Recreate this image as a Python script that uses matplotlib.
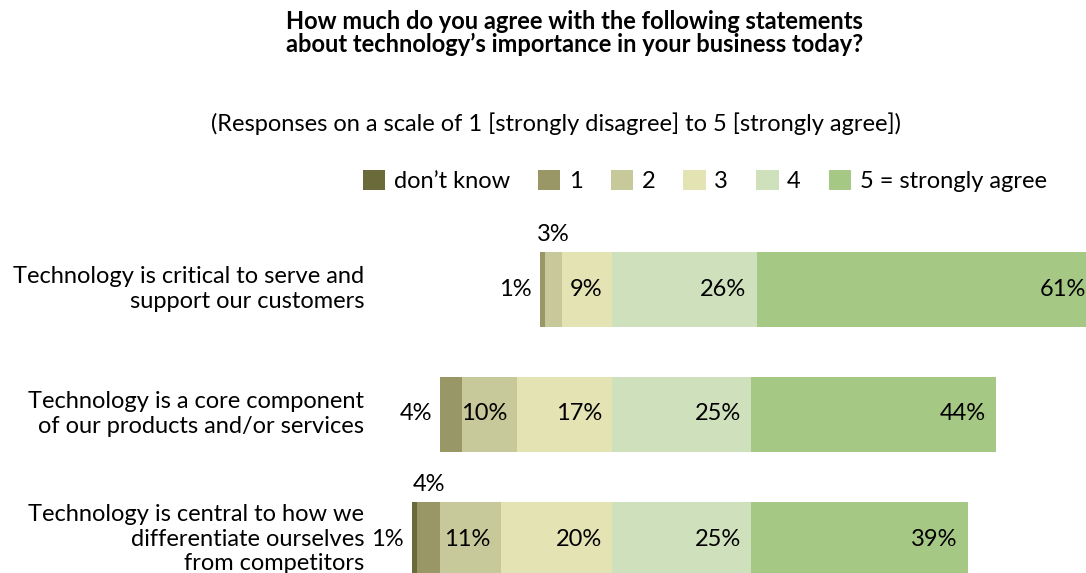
import matplotlib
matplotlib.use("Agg")
import matplotlib.pyplot as plt
from matplotlib.patches import Patch

plt.rcParams['font.family'] = ['Lato', 'DejaVu Sans']

# Data (percent of responses)
statements = [
    "Technology is critical to serve and\nsupport our customers",
    "Technology is a core component\nof our products and/or services",
    "Technology is central to how we\ndifferentiate ourselves\nfrom competitors",
]
dont_know = [0, 0, 1]
score_1 = [1, 4, 4]
score_2 = [3, 10, 11]
score_3 = [9, 17, 20]
score_4 = [26, 25, 25]
score_5 = [61, 44, 39]

series_names = ["don\u2019t know", "1", "2", "3", "4", "5 = strongly agree"]
colors = ["#6b6a3b", "#999766", "#c8c99a", "#e4e3b3", "#cfe0bc", "#a5c885"]

series = [dont_know, score_1, score_2, score_3, score_4, score_5]

fig = plt.figure(figsize=(10.86, 5.73), dpi=100)
ax = fig.add_axes([0, 0, 1, 1])
ax.set_xlim(-110.07, 85.25)
ax.set_ylim(2.272, -2.312)
ax.axis('off')

fs = 17
bar_h = 0.6
pad = 1.8
for i in range(len(statements)):
    # bars are aligned at the start of the "4" segment
    left = -(dont_know[i] + score_1[i] + score_2[i] + score_3[i])
    first_seen = False
    for k, vals in enumerate(series):
        v = vals[i]
        if v == 0:
            continue
        ax.barh(i, v, left=left, height=bar_h, color=colors[k], linewidth=0)
        label = "%d%%" % v
        if v < 5:
            if not first_seen:
                ax.text(left - 1.4, i, label, ha='right', va='center', fontsize=fs)
            else:
                ax.text(left + v / 2, i - bar_h / 2 - 0.05, label, ha='center',
                        va='bottom', fontsize=fs)
        else:
            ax.text(left + v - pad, i, label, ha='right', va='center', fontsize=fs)
        first_seen = True
        left += v
    ax.text(-44.6, i, statements[i], ha='right', va='center', fontsize=fs,
            linespacing=1.2)

fig.text(0.529, 0.942, "How much do you agree with the following statements\n"
         "about technology\u2019s importance in your business today?",
         ha='center', va='center', fontsize=17, fontweight='bold', linespacing=1.0)
fig.text(0.512, 0.785, "(Responses on a scale of 1 [strongly disagree] to 5 [strongly agree])",
         ha='center', va='center', fontsize=fs)

handles = [Patch(facecolor=c, edgecolor='none') for c in colors]
fig.legend(handles, series_names, loc='center', bbox_to_anchor=(0.649, 0.684),
           ncol=6, frameon=False, fontsize=fs, handlelength=0.95, handleheight=0.95,
           handletextpad=0.35, columnspacing=1.2)

fig.savefig("out.png", dpi=100)
